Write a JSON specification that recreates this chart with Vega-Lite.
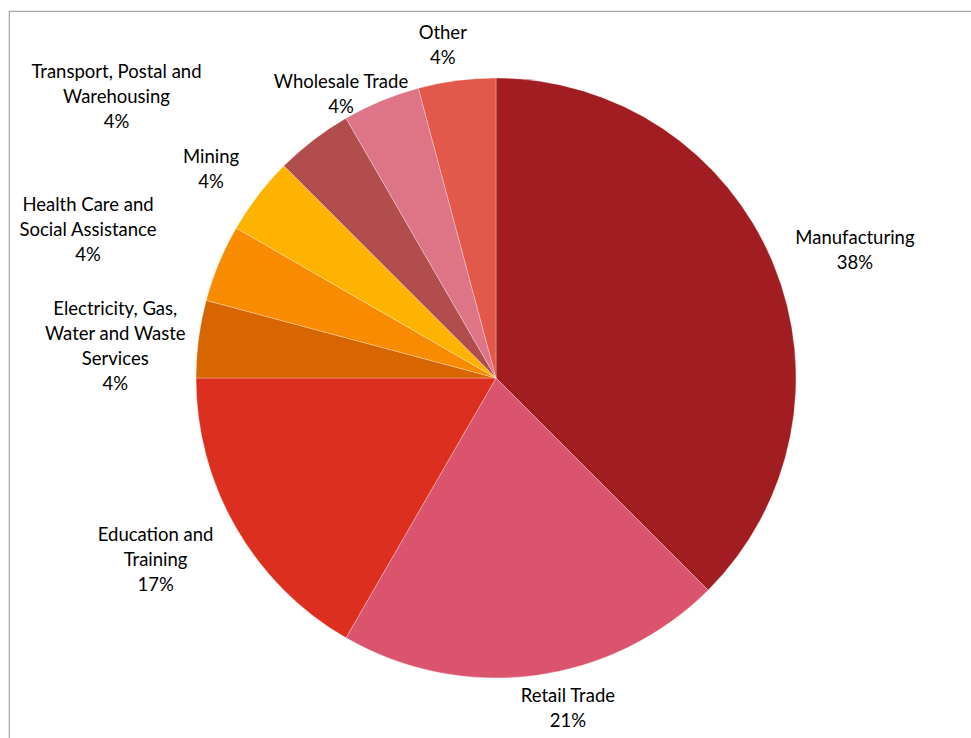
{
  "$schema": "https://vega.github.io/schema/vega-lite/v6.json",
  "width": 974,
  "height": 734,
  "autosize": {"type": "none"},
  "padding": {"left": 9, "top": 11, "right": 0, "bottom": 0},
  "background": "#ffffff",
  "view": {"stroke": "#a6a6a6", "strokeWidth": 1.2},
  "config": {"text": {"font": "Lato", "fontSize": 18.5, "lineHeight": 25, "lineBreak": "\n", "align": "center", "baseline": "middle", "color": "#000000"}},
  "data": {
    "values": [
      {"cat": "Manufacturing", "value": 9, "order": 1, "label": "Manufacturing\n38%"},
      {"cat": "Retail Trade", "value": 5, "order": 2, "label": "Retail Trade\n21%"},
      {"cat": "Education and Training", "value": 4, "order": 3, "label": "Education and\nTraining\n17%"},
      {"cat": "Electricity, Gas, Water and Waste Services", "value": 1, "order": 4, "label": "Electricity, Gas,\nWater and Waste\nServices\n4%"},
      {"cat": "Health Care and Social Assistance", "value": 1, "order": 5, "label": "Health Care and\nSocial Assistance\n4%"},
      {"cat": "Mining", "value": 1, "order": 6, "label": "Mining\n4%"},
      {"cat": "Transport, Postal and Warehousing", "value": 1, "order": 7, "label": "Transport, Postal and\nWarehousing\n4%"},
      {"cat": "Wholesale Trade", "value": 1, "order": 8, "label": "Wholesale Trade\n4%"},
      {"cat": "Other", "value": 1, "order": 9, "label": "Other\n4%"}
    ]
  },
  "encoding": {
    "theta": {"field": "value", "type": "quantitative", "stack": true},
    "order": {"field": "order", "type": "quantitative"}
  },
  "layer": [
    {
      "mark": {"type": "arc", "outerRadius": 300, "stroke": "#ffffff", "strokeWidth": 0.3},
      "encoding": {
        "color": {
          "field": "cat",
          "type": "nominal",
          "legend": null,
          "scale": {
            "domain": ["Manufacturing", "Retail Trade", "Education and Training", "Electricity, Gas, Water and Waste Services", "Health Care and Social Assistance", "Mining", "Transport, Postal and Warehousing", "Wholesale Trade", "Other"],
            "range": ["#A21D21", "#DA546E", "#DD2F20", "#D86600", "#F98B00", "#FEB300", "#B24D4E", "#DE7587", "#E2584A"]
          }
        }
      }
    },
    {
      "mark": {"type": "text", "radius": 382, "dx": 6, "dy": 6},
      "encoding": {"text": {"condition": {"test": "datum.cat === 'Manufacturing'", "field": "label"}, "value": ""}}
    },
    {
      "mark": {"type": "text", "radius": 336, "dx": 28, "dy": -15},
      "encoding": {"text": {"condition": {"test": "datum.cat === 'Retail Trade'", "field": "label"}, "value": ""}}
    },
    {
      "mark": {"type": "text", "radius": 385, "dx": -7, "dy": -36},
      "encoding": {"text": {"condition": {"test": "datum.cat === 'Education and Training'", "field": "label"}, "value": ""}}
    },
    {
      "mark": {"type": "text", "radius": 385, "dx": 1, "dy": -19},
      "encoding": {"text": {"condition": {"test": "datum.cat === 'Electricity, Gas, Water and Waste Services'", "field": "label"}, "value": ""}}
    },
    {
      "mark": {"type": "text", "radius": 434, "dx": -7, "dy": -7},
      "encoding": {"text": {"condition": {"test": "datum.cat === 'Health Care and Social Assistance'", "field": "label"}, "value": ""}}
    },
    {
      "mark": {"type": "text", "radius": 354, "dx": -4, "dy": -5},
      "encoding": {"text": {"condition": {"test": "datum.cat === 'Mining'", "field": "label"}, "value": ""}}
    },
    {
      "mark": {"type": "text", "radius": 400, "dx": -136, "dy": 11},
      "encoding": {"text": {"condition": {"test": "datum.cat === 'Transport, Postal and Warehousing'", "field": "label"}, "value": ""}}
    },
    {
      "mark": {"type": "text", "radius": 324, "dx": -31, "dy": 3},
      "encoding": {"text": {"condition": {"test": "datum.cat === 'Wholesale Trade'", "field": "label"}, "value": ""}}
    },
    {
      "mark": {"type": "text", "radius": 339, "dx": -9, "dy": -9},
      "encoding": {"text": {"condition": {"test": "datum.cat === 'Other'", "field": "label"}, "value": ""}}
    }
  ]
}
